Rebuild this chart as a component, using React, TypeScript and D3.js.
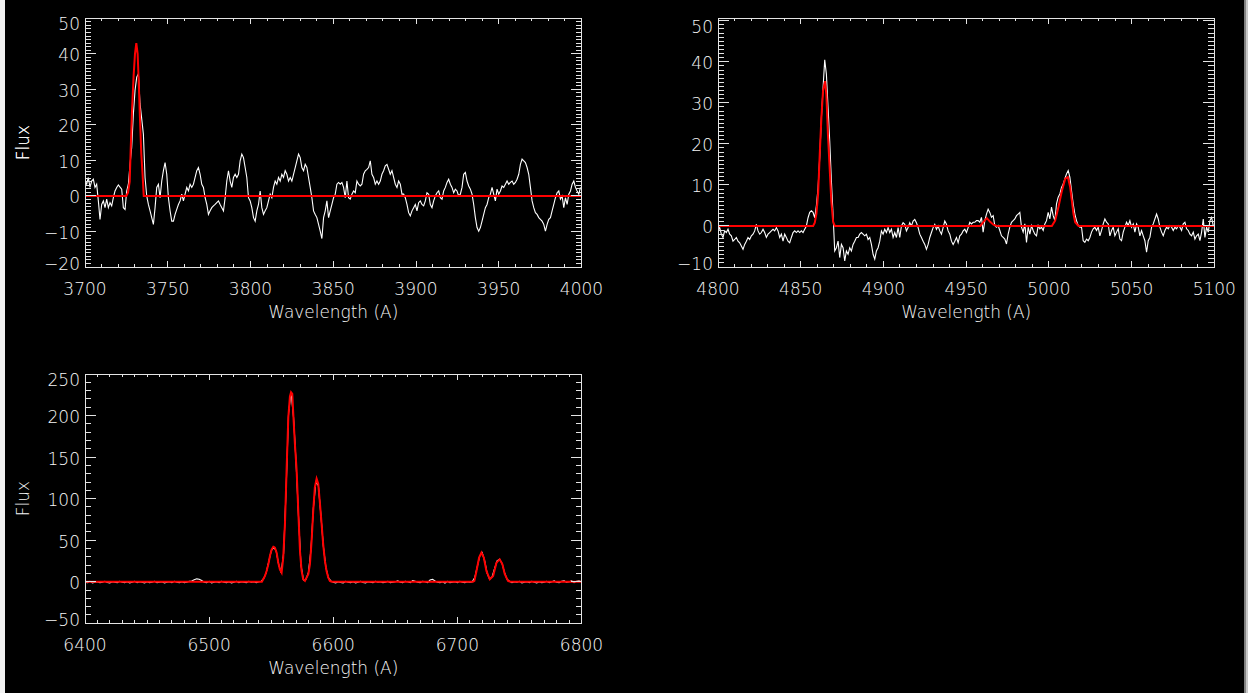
import React from 'react';
import * as d3 from 'd3';

// ---------- DATA ----------
const WAVE_STEP = 1.008;

// Panel 1: [OII] region, observed flux sampled every WAVE_STEP from oiiStart
const oiiStart = 3700;
const oiiFlux = [
  4.2, 3.3, 5.2, 2.4, 4.2, 4.7, 2.4, 3.3, -1.4, -6.6,
  -2.4, -1.4, -3.3, -0.9, -3.3, -1.9, -2.8, -0.5, 1.4, 2.4,
  3.1, 2.5, 1.9, -3.3, -3.8, 1.4, 3.3, 8.9, 13.7, 23.1,
  29.7, 33.4, 34.4, 25.9, 21.7, 17.4, 5.2, 0, -2.4, -4.2,
  -6.1, -8.0, -3.3, 2.4, 3.3, -0.5, 4.2, 7.1, 9.4, 6.1,
  -0.5, -4.2, -7.1, -7.1, -5.2, -3.8, -2.4, -1.4, 0.5, -1.4,
  0.5, 2.4, 1.4, 3.3, 2.4, 3.3, 5.2, 7.1, 8.0, 6.1,
  3.3, 2.4, -0.5, -2.4, -5.2, -4.2, -3.3, -2.8, -2.4, -1.9,
  -1.4, -2.4, -3.3, -4.2, -0.5, 4.2, 7.1, 4.2, 2.4, 5.2,
  6.1, 5.2, 6.1, 9.9, 11.8, 10.8, 8.0, 5.2, -0.5, -1.4,
  -3.3, -6.1, -7.1, -4.2, -2.4, 1.4, -3.3, -5.2, -4.2, -3.3,
  -1.4, 0.5, -0.5, 2.4, 4.2, 3.3, 5.2, 4.2, 6.1, 5.2,
  7.1, 6.1, 4.2, 5.2, 4.2, 6.1, 8.0, 9.9, 11.8, 10.8,
  8.0, 7.1, 8.9, 8.0, 5.2, 2.4, -0.5, -4.2, -5.2, -6.1,
  -8.0, -9.9, -12, -6.1, -4.2, -1.4, -6.1, -4.2, -2.4, -0.5,
  0.5,
  3.3, 3.8, 3.3, 3.8, 2.4, -0.5, 4.2, -0.5, -0.9, 0.5,
  1.4, 0.9, 4.2, 3.3, 2.8, 3.3, 6.1, 7.1, 7.5, 8.0,
  9.9, 6.1, 5.2, 3.3, 4.2, 3.3, 4.2, 6.1, 7.1, 8.5,
  8.9, 7.5, 6.1, 7.1, 5.2, 3.3, 2.4, 4.2, 3.3, 0.5,
  0.5, -0.5, -2.4, -4.7, -5.6, -4.2, -3.3, -2.4, -4.2, -1.9,
  -1.4, -2.4, -2.8, -1.4, 0.9, 0.5, -2.4, -3.3, -1.4, 0,
  0.9, 1.4, -0.5, -0.9, 1.4, 2.4, 3.8, 4.7, 3.3, 2.4,
  0.9, 1.9, 1.4, 0, 0.5, 2.4, 6.1, 6.6, 4.2, 2.8,
  1.9, 0.5, -2.4, -6.1, -8.9, -9.9, -8.9, -7.1, -5.2, -3.3,
  -2.4, -0.5, 0.5, 2.4, 0.5, -1.4, 1.9, 0.5, 1.4, 2.8,
  2.4, 3.3, 4.2, 3.3, 3.8, 4.2, 3.3, 3.8, 4.7, 6.1,
  8.9, 10.4, 9.9, 9.4, 8.0, 6.1, 2.4, -1.4, -3.3, -4.7,
  -5.2, -6.1, -6.6, -7.1, -8.0, -9.9, -8.0, -6.6, -6.1, -4.2,
  -2.4, -0.5, 0.9, 1.4, -0.9, 0, -3.3, -0.5, -2.4, 0.5,
  1.4, 3.3, 4.2, 2.4, 1.4, 0.5, 2.4,
];
const oiiFitWave = [3700, 3725, 3726, 3727, 3727.6, 3728.4, 3729.4, 3730.2, 3731, 3731.8, 3732.4, 3733.2, 3734, 3734.8, 3735.5, 4000];
const oiiFitFlux = [0, 0, 1, 4, 13, 24, 34, 40, 43, 40, 33, 22, 12, 6, 0, 0];

// Panel 2: Hbeta / [OIII] region
const hbStart = 4800;
const hbFlux = [
  -1.2, -0.4, -2.0, -2.8, -1.2, -1.6, -0.8, -2.0, -2.4, -3.7,
  -3.3, -2.8, -3.7, -4.1, -4.9, -5.7, -4.5, -3.7, -2.8, -3.3,
  -2.4, -2.0, -1.2, 0.4, -1.2, -2.0, -1.6, -0.8, -1.6, -2.8,
  -2.0, -1.6, -1.2, -0.8, -1.2, -0.4, -1.2, -2.8, -2.0, -3.7,
  -2.0, -2.8, -3.7, -4.1, -2.8, -1.6, -1.2, -1.6, -1.2, -1.6,
  -1.2, -1.6, -0.8, 0, 2.0, 3.3, 3.7, 3.3, 2.0, 4.9,
  9.3, 16.7, 26.4, 33.7, 40.5, 37.0, 28.9, 20.7, 11.0, 2.8,
  -6.1, -5.3, -3.7, -7.7, -4.5, -5.3, -8.5, -6.1, -6.9, -5.3,
  -6.1, -4.5, -3.7, -2.8, -2.8, -2.0, -1.6, -2.0, -2.4, -2.0,
  -3.3, -2.8, -4.5, -6.9, -8.1, -6.1, -5.3, -3.7, -1.2, -2.0,
  -0.8, -1.6, -0.4, -1.6, -0.8, -2.8, -1.6, -2.8, -0.4, -2.8,
  0, 0.8, 0.4, -1.2, -0.4, 0.8, 0, 1.2, 1.6, 0.8,
  -0.4, -2.0, -2.8, -3.7, -4.5, -5.7, -4.5, -2.8, -1.6, -0.4,
  0.4, -0.8, 0, -1.2, -2.0, -0.4, 1.2, 0.4, -1.2, -2.0,
  -3.7, -4.5, -3.7, -2.8, -4.1, -2.4, -2.0, -1.2, -0.8, -1.6,
  -0.4,
  0.9, 0.5, 0.9, 0.9, 1.3, 1.3, 0.9, 2.1, -1.5, 1.3,
  2.9, 4.1, 3.3, 2.1, 2.5, 0.1, -0.3, 0.1, -1.1, -2.4,
  -2.8, -3.2, -4.4, -2.0, -0.3, 0.9, 1.3, 1.7, 2.5, 2.9,
  3.3, -0.3, -1.5, 0.5, -4.0, -0.3, -2.0, 0.1, -1.1, -2.0,
  -2.4, 0.1, -0.7, -0.3, -1.1, 0.5, 1.3, 3.3, 1.7, 4.6,
  2.5, 1.3, 5.4, 7.0, 7.8, 9.4, 10.2, 11.5, 12.7, 13.5,
  11.9, 8.6, 5.4, 2.9, 1.3, 0.1, -0.3, -0.3, -3.6, -4.0,
  -3.2, -3.6, -2.8, -1.5, -0.7, -0.3, -1.1, -0.3, -2.4, -1.1,
  0.5, 1.7, 0.9, 0.5, -2.4, -1.1, -0.3, -2.4, -1.5, -0.7,
  -3.2, -3.6, -1.5, -0.3, 0.9, 0.1, 1.3, -0.3, 0.5, -1.5,
  0.5, -0.3, -2.4, -1.1, -2.4, -3.6, -6.4, -3.6, -2.8, -0.3,
  0.5, 1.7, 2.9, 1.7, -0.3, -1.5, -2.4, -1.1, -0.3, -0.7,
  0.1, -0.3, -1.1, -0.3, -0.7, 0.1, -0.3, -1.1, 0.5, 0.9,
  -0.7, -1.1, -2.0, -2.4, -1.5, -3.2, -2.4, -2.0, -3.6, -1.5,
  1.7, -2.8, -0.3, -1.5, 1.3, 2.1, 0.1,
];
const hbFitWave = [4800, 4857.5, 4858.5, 4859.5, 4860.5, 4861.5, 4862.5, 4863.5, 4864.7, 4865.5, 4866.5, 4867.5, 4868.5, 4869.6, 4870.6, 4958.5, 4960.5, 4962.5, 4964.5, 4966.5, 4968.5, 5001.8, 5003.8, 5005.8, 5007.9, 5009.9, 5011.5, 5012.9, 5013.9, 5014.9, 5015.9, 5017.9, 5100];
const hbFitFlux = [0, 0, 0.8, 3, 7.7, 17.5, 26.4, 33, 35.3, 32, 22, 14, 6, 1, 0, 0, 1, 1.9, 1, 0.3, 0, 0, 1.3, 4.6, 8.6, 11.5, 11.9, 9.4, 6.2, 2.9, 0.9, 0, 0];

// Panel 3: Halpha / [NII] / [SII] region, sampled every 2 A
const haStart = 6400;
const haStep = 2;
const haFlux = [
  -0.5, -1, 0.5, -1.5, -0.5, 0, -1, -0.5, 0.5, -1,
  -1.5, 0, -0.5, -1, 0.5, -0.5, -1, 0, -1.5, -0.5,
  0.5, -1, 0, -0.5, -1.5, 0, -1, -0.5, 0.5, -1,
  -0.5, 0, -1.5, -0.5, 0, -1, 0.5, -0.5, -1, 0,
  -1, -0.5, 0.5, 1,
  2.5, 3.5, 3, 1.5, -0.5, -1, 0.5, -1.5, -0.5, 0,
  -1, 0.5, -0.5, -1, 0, -1.5, -0.5, 0.5, -1, 0,
  -0.5, -1, 0.5, -0.5, 0, -1, 0,
  0.5, 4, 11, 24, 37, 42, 37, 21, 11, 34,
  110, 203, 228, 198, 145, 79, 20, 2, 3, 11,
  38, 89, 120, 116, 81, 43, 18, 5, 1,
  -0.5, -1.5, 0, -1, -1.5, 0.5, -0.5, -1, 0, -1.5,
  -0.5, 0.5, -1, -1.5, 0, -0.5, -1, 0.5, -0.5, 0,
  -1, -0.5, 0.5, -1, -0.5, 0, 1, -0.5, -1, 0.5,
  0, -1, 1.5, 0.5, -0.5, -1, 0.5, 0, -1, 2,
  3, 1, -0.5, -1, 0, -1.5, 0.5, -1, -0.5, 0,
  -1, 0.5, -0.5, -1, 0, -0.5,
  0, 5, 18, 31, 35, 25, 10, 3, 6, 16,
  25, 27, 22, 11, 3, 0.5,
  -1, 0, -0.5, 0.5, -1.5, -0.5, 0, -1, 0.5, -0.5,
  -1.5, 0, -1, -0.5, 0.5, -1, 0, 1, -0.5, -1,
  0.5, 1, -0.5, 0, 1, -1, 0.5, 1, 0,
];
const haFitWave = [6400, 6542.5, 6543.6, 6545, 6546.3, 6547.7, 6549, 6550.4, 6551.7, 6553, 6554.4, 6555.7, 6557, 6558.4, 6559.7, 6561.1, 6562.4, 6563.8, 6565.1, 6566, 6567, 6567.8, 6569.1, 6570.5, 6571.8, 6573.2, 6574.5, 6575.8, 6577.2, 6578.5, 6579.9, 6581.2, 6582.6, 6583.9, 6585.2, 6586.6, 6587.9, 6589.3, 6590.6, 6591.9, 6593.3, 6594.6, 6596, 6597.3, 6598.7, 6712.5, 6713.7, 6715.4, 6717.5, 6719.4, 6721.3, 6723.4, 6726.1, 6728.8, 6731.5, 6734.1, 6736.3, 6738.2, 6740.8, 6742.7, 6800];
const haFitFlux = [0, 0, 3, 7, 13, 21, 31, 39, 42, 41, 35, 23, 15, 11, 29, 70, 134, 198, 223, 228, 226, 202, 166, 134, 86, 37, 13, 3, 1, 5, 9, 21, 50, 86, 114, 124, 118, 94, 70, 45, 25, 13, 5, 1, 0, 0, 1, 13, 29, 35, 29, 13, 3, 7, 23, 27, 21, 9, 1, 0, 0];

// Axis ticks
const oiiXTicks = [3700, 3750, 3800, 3850, 3900, 3950, 4000];
const oiiYTicks = [-20, -10, 0, 10, 20, 30, 40, 50];
const hbXTicks = [4800, 4850, 4900, 4950, 5000, 5050, 5100];
const hbYTicks = [-10, 0, 10, 20, 30, 40, 50];
const haXTicks = [6400, 6500, 6600, 6700, 6800];
const haYTicks = [-50, 0, 50, 100, 150, 200, 250];

const xTitle = 'Wavelength (A)';
const yTitle = 'Flux';

// ---------- STYLE ----------
const FG = '#e4e4e4';
const TEXT = '#f6f6f6';
const FONT = '"DejaVu Sans", sans-serif';

type Pt = [number, number];

const regular = (start: number, step: number, vals: number[]): Pt[] =>
  vals.map((v, i) => [start + i * step, v]);
const zip = (a: number[], b: number[]): Pt[] => a.map((v, i) => [v, b[i]]);

type PanelProps = {
  id: string;
  left: number; top: number; width: number; height: number;
  xDomain: [number, number]; yDomain: [number, number];
  xTicks: number[]; yTicks: number[];
  xMinorStep: number; yMinorStep: number;
  obs: Pt[]; fit: Pt[];
};

function Panel(p: PanelProps) {
  const x = d3.scaleLinear().domain(p.xDomain).range([p.left, p.left + p.width]);
  const y = d3.scaleLinear().domain(p.yDomain).range([p.top + p.height, p.top]);
  const line = d3.line<Pt>().x(d => x(d[0])).y(d => y(d[1]));
  const bottom = p.top + p.height;
  const right = p.left + p.width;
  const eps = 1e-6;
  const isMajor = (v: number, ticks: number[]) => ticks.some(t => Math.abs(t - v) < eps);
  const xMinor = d3.range(p.xDomain[0], p.xDomain[1] + eps, p.xMinorStep).filter(v => !isMajor(v, p.xTicks));
  const yStart = Math.ceil(p.yDomain[0] / p.yMinorStep) * p.yMinorStep;
  const yMinor = d3.range(yStart, p.yDomain[1] + eps, p.yMinorStep).filter(v => !isMajor(v, p.yTicks));
  const fmt = (v: number) => (v < 0 ? '\u2212' + Math.abs(v) : String(v));
  const XMAJ = 6, XMIN = 3, YMAJ = 11, YMIN = 6;
  const yLabelOffset = (i: number) =>
    i === p.yTicks.length - 1 ? 6 : i === 0 ? -3 : 1.5;
  return (
    <g>
      <defs>
        <clipPath id={p.id}>
          <rect x={p.left} y={p.top} width={p.width} height={p.height} />
        </clipPath>
      </defs>
      <g clipPath={`url(#${p.id})`}>
        <path d={line(p.obs) || ''} fill="none" stroke="#ffffff" strokeWidth={1.1} />
        <path d={line(p.fit) || ''} fill="none" stroke="#ff0000" strokeWidth={2} />
      </g>
      <g stroke={FG} strokeWidth={1} shapeRendering="crispEdges">
        <rect x={p.left} y={p.top} width={p.width} height={p.height} fill="none" />
        {p.xTicks.map(v => (
          <g key={'xM' + v}>
            <line x1={x(v)} x2={x(v)} y1={bottom} y2={bottom - XMAJ} />
            <line x1={x(v)} x2={x(v)} y1={p.top} y2={p.top + XMAJ} />
          </g>
        ))}
        {xMinor.map(v => (
          <g key={'xm' + v}>
            <line x1={x(v)} x2={x(v)} y1={bottom} y2={bottom - XMIN} />
            <line x1={x(v)} x2={x(v)} y1={p.top} y2={p.top + XMIN} />
          </g>
        ))}
        {p.yTicks.map(v => (
          <g key={'yM' + v}>
            <line x1={p.left} x2={p.left + YMAJ} y1={y(v)} y2={y(v)} />
            <line x1={right} x2={right - YMAJ} y1={y(v)} y2={y(v)} />
          </g>
        ))}
        {yMinor.map(v => (
          <g key={'ym' + v}>
            <line x1={p.left} x2={p.left + YMIN} y1={y(v)} y2={y(v)} />
            <line x1={right} x2={right - YMIN} y1={y(v)} y2={y(v)} />
          </g>
        ))}
      </g>
      <g fill={TEXT} fontFamily={FONT} fontSize={17} fontWeight={200}>
        {p.xTicks.map(v => (
          <text key={'xl' + v} x={x(v)} y={bottom + 21.5} textAnchor="middle" dominantBaseline="central">{fmt(v)}</text>
        ))}
        {p.yTicks.map((v, i) => (
          <text key={'yl' + v} x={p.left - 5} y={y(v) + yLabelOffset(i)} textAnchor="end" dominantBaseline="central">{fmt(v)}</text>
        ))}
        <text x={(p.left + right) / 2} y={bottom + 44.5} textAnchor="middle" dominantBaseline="central" textLength={130} lengthAdjust="spacingAndGlyphs">{xTitle}</text>
        <text transform={`translate(23,${(p.top + bottom) / 2}) rotate(-90)`} textAnchor="middle" dominantBaseline="central">{yTitle}</text>
      </g>
    </g>
  );
}

export default function App() {
  const W = 1248, H = 693;
  return (
    <svg width={W} height={H} style={{ position: 'absolute', left: 0, top: 0, display: 'block' }}>
      <rect x={0} y={0} width={W} height={H} fill="#000" />
      <rect x={0} y={0} width={5} height={H} fill="#f2f2f2" />
      <rect x={1244} y={0} width={1.5} height={H} fill="#808080" />
      <rect x={1245.5} y={0} width={2.5} height={H} fill="#c8c8c8" />
      <Panel
        id="c1" left={85} top={18.3} width={496.5} height={248.7}
        xDomain={[3700, 4000]} yDomain={[-20, 50]}
        xTicks={oiiXTicks} yTicks={oiiYTicks} xMinorStep={10} yMinorStep={1}
        obs={regular(oiiStart, WAVE_STEP, oiiFlux)} fit={zip(oiiFitWave, oiiFitFlux)}
      />
      <Panel
        id="c2" left={718} top={18.3} width={496.3} height={248.7}
        xDomain={[4800, 5100]} yDomain={[-10, 50.6]}
        xTicks={hbXTicks} yTicks={hbYTicks} xMinorStep={10} yMinorStep={1}
        obs={regular(hbStart, WAVE_STEP, hbFlux)} fit={zip(hbFitWave, hbFitFlux)}
      />
      <Panel
        id="c3" left={85} top={374} width={496.5} height={249.3}
        xDomain={[6400, 6800]} yDomain={[-50, 250]}
        xTicks={haXTicks} yTicks={haYTicks} xMinorStep={10} yMinorStep={10}
        obs={regular(haStart, haStep, haFlux)} fit={zip(haFitWave, haFitFlux)}
      />
    </svg>
  );
}
